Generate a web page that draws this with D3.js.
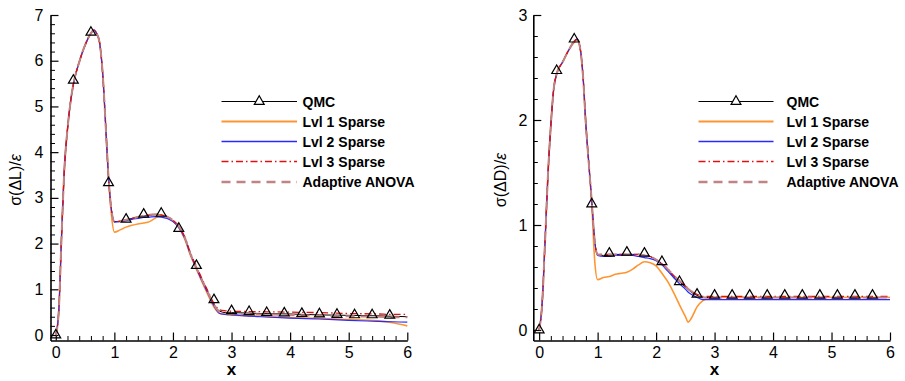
<!DOCTYPE html>
<html>
<head>
<meta charset="utf-8">
<script src="https://cdn.jsdelivr.net/npm/d3@7"></script>
<style>
  body { margin: 0; background: #ffffff; }
  svg { font-family: "Liberation Sans", Arial, sans-serif; }
</style>
</head>
<body>
<div id="chart"></div>
<script>
// x positions of the sampled curves
const xs = [0, 0.05, 0.1, 0.15, 0.2, 0.25, 0.3, 0.4, 0.5, 0.6, 0.65, 0.7, 0.75, 0.8, 0.85, 0.9, 0.95,
  1.0, 1.1, 1.2, 1.3, 1.4, 1.5, 1.6, 1.7, 1.8, 1.9, 2.0, 2.1, 2.2, 2.3, 2.4, 2.5, 2.55, 2.6, 2.7, 2.8, 2.9,
  3.0, 3.5, 4.0, 4.5, 5.0, 5.5, 5.75, 6.0];

// left panel: sigma(dL)/eps
const liftQmc = [0, 0.5, 2.2, 3.7, 4.5, 5.08, 5.48, 5.97, 6.34, 6.6, 6.67, 6.59, 6.38, 5.73, 4.63, 3.45, 2.74,
  2.48, 2.49, 2.52, 2.55, 2.58, 2.6, 2.62, 2.63, 2.62, 2.58, 2.5, 2.37, 2.14, 1.77, 1.48, 1.2, 1.07, 0.93, 0.67, 0.52, 0.49,
  0.49, 0.47, 0.46, 0.44, 0.43, 0.42, 0.41, 0.40];
const liftLvl1 = [0, 0.5, 2.2, 3.7, 4.5, 5.08, 5.48, 5.97, 6.34, 6.6, 6.67, 6.59, 6.38, 5.73, 4.63, 3.45, 2.62,
  2.25, 2.3, 2.36, 2.4, 2.43, 2.45, 2.48, 2.56, 2.62, 2.58, 2.49, 2.35, 2.1, 1.74, 1.44, 1.15, 1.01, 0.87, 0.61, 0.47, 0.45,
  0.44, 0.41, 0.38, 0.36, 0.34, 0.31, 0.27, 0.2];
const liftLvl2 = [0, 0.5, 2.2, 3.7, 4.5, 5.08, 5.48, 5.97, 6.34, 6.6, 6.67, 6.59, 6.38, 5.73, 4.63, 3.45, 2.74,
  2.47, 2.48, 2.5, 2.53, 2.55, 2.57, 2.58, 2.59, 2.58, 2.55, 2.48, 2.35, 2.12, 1.76, 1.46, 1.17, 1.04, 0.9, 0.64, 0.47, 0.45,
  0.44, 0.40, 0.37, 0.35, 0.32, 0.30, 0.29, 0.28];
const liftLvl3 = [0, 0.5, 2.2, 3.7, 4.5, 5.08, 5.48, 5.97, 6.34, 6.6, 6.67, 6.59, 6.38, 5.73, 4.63, 3.45, 2.74,
  2.48, 2.49, 2.52, 2.55, 2.58, 2.61, 2.63, 2.64, 2.63, 2.59, 2.51, 2.38, 2.15, 1.79, 1.5, 1.22, 1.09, 0.95, 0.69, 0.55, 0.53,
  0.52, 0.51, 0.50, 0.49, 0.47, 0.46, 0.45, 0.45];
const liftAnova = [0, 0.5, 2.2, 3.7, 4.5, 5.08, 5.48, 5.97, 6.34, 6.6, 6.67, 6.59, 6.38, 5.73, 4.63, 3.45, 2.74,
  2.48, 2.49, 2.52, 2.55, 2.58, 2.61, 2.63, 2.64, 2.63, 2.59, 2.51, 2.38, 2.14, 1.77, 1.47, 1.19, 1.06, 0.92, 0.66, 0.5, 0.47,
  0.46, 0.45, 0.44, 0.42, 0.41, 0.40, 0.39, 0.39];

// right panel: sigma(dD)/eps
const dragQmc = [0, 0.24, 0.83, 1.47, 1.95, 2.3, 2.44, 2.55, 2.66, 2.75, 2.77, 2.69, 2.42, 1.95, 1.58, 1.22, 0.85,
  0.72, 0.71, 0.71, 0.72, 0.72, 0.72, 0.72, 0.72, 0.71, 0.70, 0.67, 0.63, 0.57, 0.51, 0.46, 0.41, 0.385, 0.36, 0.33, 0.31, 0.31,
  0.31, 0.31, 0.31, 0.31, 0.31, 0.31, 0.31, 0.31];
const dragLvl1 = [0, 0.24, 0.83, 1.47, 1.95, 2.3, 2.44, 2.55, 2.66, 2.74, 2.76, 2.68, 2.42, 1.95, 1.58, 1.2, 0.66,
  0.48, 0.50, 0.51, 0.53, 0.54, 0.55, 0.58, 0.62, 0.65, 0.64, 0.61, 0.54, 0.46, 0.355, 0.24, 0.13, 0.075, 0.11, 0.22, 0.28, 0.30,
  0.31, 0.31, 0.31, 0.31, 0.31, 0.31, 0.31, 0.31];
const dragLvl2 = [0, 0.24, 0.83, 1.47, 1.95, 2.3, 2.44, 2.55, 2.66, 2.75, 2.77, 2.69, 2.42, 1.95, 1.58, 1.22, 0.85,
  0.71, 0.70, 0.70, 0.71, 0.71, 0.71, 0.71, 0.70, 0.69, 0.68, 0.66, 0.62, 0.56, 0.50, 0.44, 0.39, 0.36, 0.34, 0.31, 0.29, 0.29,
  0.29, 0.29, 0.29, 0.29, 0.29, 0.29, 0.29, 0.29];
const dragLvl3 = [0, 0.24, 0.83, 1.47, 1.95, 2.3, 2.44, 2.55, 2.66, 2.75, 2.77, 2.69, 2.42, 1.95, 1.58, 1.22, 0.85,
  0.72, 0.72, 0.72, 0.72, 0.72, 0.72, 0.72, 0.72, 0.71, 0.70, 0.67, 0.63, 0.58, 0.52, 0.47, 0.42, 0.39, 0.37, 0.34, 0.32, 0.32,
  0.32, 0.32, 0.32, 0.32, 0.32, 0.32, 0.32, 0.32];
const dragAnova = [0, 0.24, 0.83, 1.47, 1.95, 2.3, 2.44, 2.55, 2.66, 2.75, 2.77, 2.69, 2.42, 1.95, 1.58, 1.22, 0.85,
  0.72, 0.72, 0.72, 0.72, 0.72, 0.72, 0.72, 0.72, 0.71, 0.70, 0.67, 0.63, 0.58, 0.52, 0.47, 0.42, 0.39, 0.37, 0.33, 0.31, 0.31,
  0.31, 0.31, 0.31, 0.31, 0.31, 0.31, 0.31, 0.31];

// QMC symbols
const markX = [0, 0.3, 0.6, 0.9, 1.2, 1.5, 1.8, 2.1, 2.4, 2.7, 3.0, 3.3, 3.6, 3.9, 4.2, 4.5, 4.8, 5.1, 5.4, 5.7];
const liftMarks = [0, 5.57, 6.62, 3.33, 2.53, 2.64, 2.66, 2.33, 1.52, 0.77, 0.53, 0.51, 0.49, 0.48, 0.47, 0.46, 0.45, 0.44, 0.44, 0.43];
const dragMarks = [0, 2.47, 2.77, 1.2, 0.73, 0.74, 0.73, 0.65, 0.46, 0.34, 0.33, 0.33, 0.33, 0.33, 0.33, 0.33, 0.33, 0.33, 0.33, 0.33];

const legendNames = ['QMC', 'Lvl 1 Sparse', 'Lvl 2 Sparse', 'Lvl 3 Sparse', 'Adaptive ANOVA'];
const xTicks = [0, 1, 2, 3, 4, 5, 6];
const liftTicks = [0, 1, 2, 3, 4, 5, 6, 7];
const dragTicks = [0, 1, 2, 3];

const styles = [
  { color: '#000000', width: 1, dash: null },
  { color: '#ff9530', width: 1.6, dash: null },
  { color: '#2a2aff', width: 1.2, dash: null },
  { color: '#e01010', width: 1.3, dash: '7,3,1.5,3' },
  { color: '#c08484', width: 2, dash: '9,6' },
];

const width = 905, height = 381;
const plotBottom = 340.5, plotTop = 15;

const svg = d3.select('#chart')
  .append('svg')
  .attr('width', width)
  .attr('height', height);

const tri = d3.symbol(d3.symbolTriangle, 42);

function drawPanel(p) {
  const x = d3.scaleLinear().domain(p.xDomain).range(p.xRange);
  const y = d3.scaleLinear().domain(p.yDomain).range([plotBottom, plotTop]);
  const g = svg.append('g');

  const minorX = d3.range(0, 6.01, 0.2).filter(v => Math.abs(v - Math.round(v)) > 0.01);
  const minorY = d3.range(0, p.yDomain[1] + 0.01, 0.2).filter(v => Math.abs(v - Math.round(v)) > 0.01);

  g.append('g')
    .attr('transform', `translate(0,${plotBottom})`)
    .call(d3.axisBottom(x).tickValues(minorX).tickSize(-4.5).tickFormat(''))
    .call(a => a.select('.domain').remove());
  g.append('g')
    .attr('transform', `translate(${p.xRange[0]},0)`)
    .call(d3.axisLeft(y).tickValues(minorY).tickSize(-4.5).tickFormat(''))
    .call(a => a.select('.domain').remove());

  const xAxis = g.append('g')
    .attr('transform', `translate(0,${plotBottom})`)
    .call(d3.axisBottom(x).tickValues(xTicks).tickSize(-8).tickSizeOuter(0).tickPadding(6).tickFormat(d3.format('d')));
  const yAxis = g.append('g')
    .attr('transform', `translate(${p.xRange[0]},0)`)
    .call(d3.axisLeft(y).tickValues(p.yTicks).tickSize(-8).tickSizeOuter(0).tickPadding(p.yPad).tickFormat(d3.format('d')));

  [xAxis, yAxis].forEach(a => {
    a.selectAll('.domain').attr('stroke-width', 1.6);
    a.selectAll('.tick line').attr('stroke-width', 1.2);
    a.selectAll('text').style('font-size', '16px').attr('fill', '#000');
  });
  g.selectAll('.tick line').attr('stroke', '#000');

  // curves
  const line = d3.line()
    .x((d, i) => x(xs[i]))
    .y(d => y(d))
    .curve(d3.curveMonotoneX);

  p.series.forEach((s, i) => {
    g.append('path')
      .attr('d', line(s))
      .attr('fill', 'none')
      .attr('stroke', styles[i].color)
      .attr('stroke-width', styles[i].width)
      .attr('stroke-dasharray', styles[i].dash);
  });

  g.selectAll('.mark')
    .data(p.marks)
    .enter()
    .append('path')
    .attr('d', tri)
    .attr('transform', (d, i) => `translate(${x(markX[i])},${y(d)})`)
    .attr('fill', 'none')
    .attr('stroke', '#000')
    .attr('stroke-width', 1.2);

  // legend
  const rows = [101.5, 121.5, 141.5, 161.5, 182];
  legendNames.forEach((name, i) => {
    g.append('line')
      .attr('x1', p.legend.x1).attr('x2', p.legend.x2)
      .attr('y1', rows[i]).attr('y2', rows[i])
      .attr('stroke', styles[i].color)
      .attr('stroke-width', i === 0 ? 1.2 : styles[i].width + 0.3)
      .attr('stroke-dasharray', styles[i].dash);
    g.append('text')
      .attr('x', p.legend.tx)
      .attr('y', rows[i] + 5)
      .style('font-size', '14px')
      .style('font-weight', 'bold')
      .text(name);
  });
  g.append('path')
    .attr('d', tri)
    .attr('transform', `translate(${(p.legend.x1 + p.legend.x2) / 2},${rows[0]})`)
    .attr('fill', '#fff')
    .attr('stroke', '#000')
    .attr('stroke-width', 1.2);

  // axis titles
  g.append('text')
    .attr('x', (x(0) + x(6)) / 2)
    .attr('y', 375)
    .attr('text-anchor', 'middle')
    .style('font-size', '17px')
    .style('font-weight', 'bold')
    .text('x');

  const yt = g.append('text')
    .attr('transform', `translate(${p.titleX},180) rotate(-90)`)
    .attr('text-anchor', 'middle')
    .style('font-size', '16px');
  yt.append('tspan').text(p.yTitle);
  yt.append('tspan').style('font-style', 'italic').text('ε');
}

drawPanel({
  xDomain: [-0.09, 6], xRange: [50.5, 407.3],
  yDomain: [-0.12, 7], yTicks: liftTicks, yPad: 7,
  series: [liftQmc, liftLvl1, liftLvl2, liftLvl3, liftAnova],
  marks: liftMarks,
  legend: { x1: 221.5, x2: 297, tx: 302.5 },
  titleX: 21, yTitle: 'σ(ΔL)/',
});

drawPanel({
  xDomain: [-0.1, 6], xRange: [533.3, 890],
  yDomain: [-0.1, 3], yTicks: dragTicks, yPad: 6,
  series: [dragQmc, dragLvl1, dragLvl2, dragLvl3, dragAnova],
  marks: dragMarks,
  legend: { x1: 698.5, x2: 773.5, tx: 786.5 },
  titleX: 506, yTitle: 'σ(ΔD)/',
});
</script>
</body>
</html>
